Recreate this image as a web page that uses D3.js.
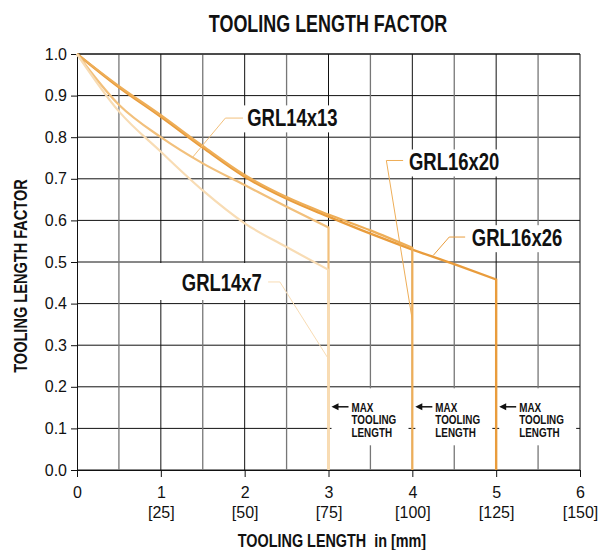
<!DOCTYPE html>
<html>
<head>
<meta charset="utf-8">
<script src="https://cdn.jsdelivr.net/npm/d3@7"></script>
<style>
  body { margin: 0; background: #fff; }
  text { font-family: "Liberation Sans", Arial, sans-serif; fill: #111; }
</style>
</head>
<body>
<svg id="chart" width="600" height="550"></svg>
<script>
// values
const lengthIn = [0, 0.5, 1, 1.5, 2, 2.5, 3, 3.5, 4, 4.5, 5];
const grl14x7  = [1.0, 0.862, 0.765, 0.672, 0.593, 0.536, 0.481];
const grl14x13 = [1.0, 0.878, 0.800, 0.737, 0.685, 0.633, 0.583];
const grl16x20 = [1.0, 0.923, 0.853, 0.779, 0.709, 0.656, 0.614, 0.576, 0.534];
const grl16x26 = [1.0, 0.920, 0.849, 0.775, 0.705, 0.652, 0.609, 0.568, 0.530, 0.495, 0.458];
const seriesNames = ["GRL14x7", "GRL14x13", "GRL16x20", "GRL16x26"];
const maxLength = [3, 3, 4, 5];
const maxLabel = ["MAX", "TOOLING", "LENGTH"];

const xTicks = [0, 1, 2, 3, 4, 5, 6];
const mmTicks = ["", "[25]", "[50]", "[75]", "[100]", "[125]", "[150]"];
const yTicks = [0, 0.1, 0.2, 0.3, 0.4, 0.5, 0.6, 0.7, 0.8, 0.9, 1.0];

const colors = ["#f8dcb4", "#f2c07c", "#eeae58", "#e99c3c"];
const widths = [2.2, 2.2, 2.2, 2.4];

// label placement (data units)
const labelPos = [
  {tx: 1.25, ty: 0.43, w: 79, box: [155, 263, 266, 300], leader: [[2.28, 0.452], [2.42, 0.452], [2.99, 0.27]]},
  {tx: 2.03, ty: 0.826, w: 92, box: null, leader: [[1.98, 0.846], [1.77, 0.846], [1.38, 0.752]]},
  {tx: 3.96, ty: 0.72, w: 91, box: null, leader: [[3.89, 0.744], [3.69, 0.744], [4.0, 0.36]]},
  {tx: 4.71, ty: 0.538, w: 92, box: null, leader: [[4.63, 0.56], [4.44, 0.56], [4.25, 0.516]]}
];

const svg = d3.select("#chart");
const x = d3.scaleLinear().domain([0, 6]).range([77, 580]);
const y = d3.scaleLinear().domain([0, 1]).range([470, 54]);

// bold condensed look: squeeze a bold sans horizontally
function cond(sel, tx, ty, size, sx, extra) {
  return sel.attr("transform", `translate(${tx},${ty})${extra || ""} scale(${sx},1)`)
    .attr("font-size", size).attr("font-weight", "bold");
}

cond(svg.append("text"), 328, 32, 23, 0.78)
  .attr("text-anchor", "middle")
  .text("TOOLING LENGTH FACTOR");

// grid
const grid = svg.append("g");
grid.selectAll(".h").data(yTicks).join("line")
  .attr("x1", x(0)).attr("x2", x(6))
  .attr("y1", d => y(d)).attr("y2", d => y(d))
  .attr("stroke", "#111").attr("stroke-width", 1);
grid.selectAll(".v").data(d3.range(1, 12).map(i => i / 2)).join("line")
  .attr("x1", d => x(d)).attr("x2", d => x(d))
  .attr("y1", y(0)).attr("y2", y(1))
  .attr("stroke", d => d % 1 === 0 ? "#111" : "#777")
  .attr("stroke-width", d => d % 1 === 0 ? 1 : 1.3);

// white boxes behind the labels
const boxes = svg.append("g");
labelPos.forEach(p => {
  const b = p.box || [x(p.tx) - 6, y(p.ty) - 21, x(p.tx) + p.w + 6, y(p.ty) + 6];
  boxes.append("rect").attr("x", b[0]).attr("y", b[1])
    .attr("width", b[2] - b[0]).attr("height", b[3] - b[1]).attr("fill", "#fff");
});
[3, 4, 5].forEach(m => {
  boxes.append("rect").attr("x", x(m) + 3).attr("y", y(0.2) + 1.5)
    .attr("width", 77).attr("height", 57).attr("fill", "#fff");
});

// axes
svg.append("g").attr("transform", `translate(0,${y(0)})`)
  .call(d3.axisBottom(x).tickValues(xTicks).tickSize(7).tickPadding(10).tickFormat(d3.format("d")))
  .call(g => {
    g.select(".domain").attr("stroke", "#111");
    g.selectAll(".tick line").attr("stroke", "#111");
    g.selectAll(".tick text").attr("font-size", 16).attr("fill", "#111");
    g.selectAll(".tick").append("text")
      .attr("y", 48).attr("text-anchor", "middle")
      .attr("font-size", 16).attr("fill", "#111")
      .text((d, i) => mmTicks[i]);
  });

svg.append("g").attr("transform", `translate(${x(0)},0)`)
  .call(d3.axisLeft(y).tickValues(yTicks).tickSize(6).tickPadding(4).tickFormat(d3.format(".1f")))
  .call(g => {
    g.select(".domain").attr("stroke", "#111");
    g.selectAll(".tick line").attr("stroke", "#111");
    g.selectAll(".tick text").attr("font-size", 16).attr("fill", "#111");
  });

// frame top and right
svg.append("path")
  .attr("d", `M${x(0)},${y(1)}H${x(6)}V${y(0)}`)
  .attr("fill", "none").attr("stroke", "#111");

cond(svg.append("text"), 27, (y(0) + y(1)) / 2 + 14, 18, 0.81, " rotate(-90)")
  .attr("text-anchor", "middle")
  .text("TOOLING LENGTH FACTOR");

cond(svg.append("text"), 332, 547, 18, 0.8)
  .attr("text-anchor", "middle").attr("xml:space", "preserve")
  .text("TOOLING LENGTH  in [mm]");

// series
const seriesValues = [grl14x7, grl14x13, grl16x20, grl16x26];
const line = d3.line().x(d => x(d[0])).y(d => y(d[1])).curve(d3.curveMonotoneX);
const plot = svg.append("g");
[3, 2, 1, 0].forEach(i => {
  const pts = seriesValues[i].map((v, k) => [lengthIn[k], v]);
  plot.append("path")
    .attr("d", line(pts) + `L${x(maxLength[i])},${y(0)}`)
    .attr("fill", "none")
    .attr("stroke", colors[i])
    .attr("stroke-width", widths[i]);
});

// series labels and leaders
const lab = svg.append("g");
labelPos.forEach((p, i) => {
  lab.append("path")
    .attr("d", d3.line().x(d => x(d[0])).y(d => y(d[1]))(p.leader))
    .attr("fill", "none").attr("stroke", colors[i]).attr("stroke-width", 1);
  cond(lab.append("text"), x(p.tx), y(p.ty), 24, 0.77)
    .text(seriesNames[i]);
});

// max tooling length markers
[3, 4, 5].forEach(m => {
  const g = svg.append("g").attr("transform", `translate(${x(m)},${y(0.2)})`);
  g.append("path").attr("d", "M20,20H7").attr("stroke", "#111").attr("stroke-width", 1.5);
  g.append("path").attr("d", "M3,20L10,16.5L10,23.5Z").attr("fill", "#111");
  maxLabel.forEach((t, i) => {
    cond(g.append("text"), 23, 25 + i * 12.6, 12.5, 0.79).text(t);
  });
});
</script>
</body>
</html>
